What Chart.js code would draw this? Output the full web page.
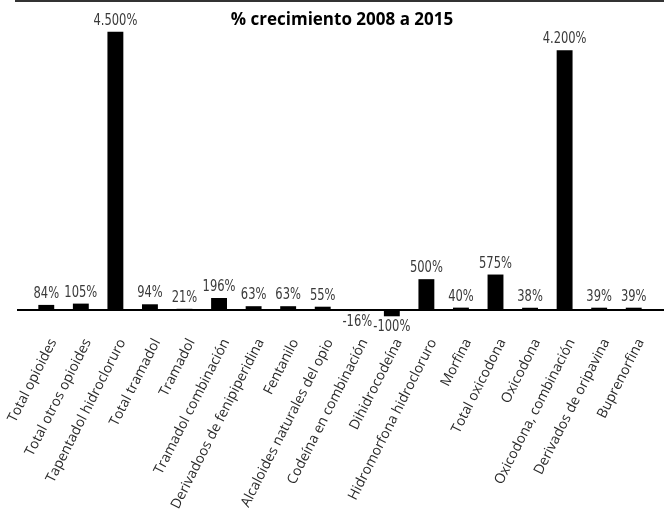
<!DOCTYPE html>
<html>
<head>
<meta charset="utf-8">
<script src="https://cdn.jsdelivr.net/npm/chart.js@4"></script>
<style>
  html, body { margin: 0; padding: 0; background: #fff; }
  #wrap { width: 664px; height: 512px; }
</style>
</head>
<body>
<div id="wrap"><canvas id="grafico" width="664" height="512"></canvas></div>
<script>
// datos
const categorias = [
  "Total opioides", "Total otros opioides", "Tapentadol hidrocloruro",
  "Total tramadol", "Tramadol", "Tramadol combinación",
  "Derivadoos de fenipiperidina", "Fentanilo", "Alcaloides naturales del opio",
  "Codeína en combinación", "Dihidrocodeína", "Hidromorfona hidrocloruro",
  "Morfina", "Total oxicodona", "Oxicodona", "Oxicodona, combinación",
  "Derivados de oripavina", "Buprenorfina"
];
const crecimiento = [84, 105, 4500, 94, 21, 196, 63, 63, 55, -16, -100, 500, 40, 575, 38, 4200, 39, 39];
const titulo = "% crecimiento 2008 a 2015";

// 4500 -> "4.500%"
function formatoPct(v) {
  const s = String(Math.abs(v)).replace(/\B(?=(\d{3})+(?!\d))/g, ".");
  return (v < 0 ? "-" : "") + s + "%";
}

//etiquetas de valor, lineas y titulo
const dibujoExtra = {
  id: "dibujoExtra",
  afterDatasetsDraw(chart) {
    const { ctx, chartArea } = chart;
    const yScale = chart.scales.y;
    const y0 = yScale.getPixelForValue(0);

    ctx.save();
    //linea superior
    ctx.strokeStyle = "#333";
    ctx.lineWidth = 2;
    ctx.beginPath();
    ctx.moveTo(15, 1);
    ctx.lineTo(664, 1);
    ctx.stroke();

    //eje cero
    ctx.strokeStyle = "#000";
    ctx.beginPath();
    ctx.moveTo(17, y0);
    ctx.lineTo(664, y0);
    ctx.stroke();

    //valores
    const meta = chart.getDatasetMeta(0);
    ctx.fillStyle = "#3a3a3a";
    ctx.font = "16px 'Liberation Sans Narrow', 'DejaVu Sans Condensed', sans-serif";
    ctx.textAlign = "center";
    meta.data.forEach((bar, i) => {
      const v = crecimiento[i];
      const txt = formatoPct(v);
      ctx.save();
      if (v >= 0) {
        ctx.textBaseline = "bottom";
        ctx.translate(bar.x, Math.min(bar.y, y0 - 1) - 3);
      } else {
        ctx.textBaseline = "top";
        ctx.translate(bar.x, Math.max(bar.y, y0 + 1) + 3);
      }
      ctx.scale(0.8, 1);
      ctx.fillText(txt, 0, 0);
      ctx.restore();
    });

    //titulo
    ctx.fillStyle = "#000";
    ctx.font = "bold 17px 'Open Sans', sans-serif";
    ctx.textAlign = "center";
    ctx.textBaseline = "middle";
    ctx.fillText(titulo, (chartArea.left + chartArea.right) / 2 + 2, 20);
    ctx.restore();
  },
};

const ctxBar = document.getElementById("grafico").getContext("2d");
const grafico = new Chart(ctxBar, {
  type: "bar",
  data: {
    labels: categorias,
    datasets: [
      {
        data: crecimiento,
        backgroundColor: "#000",
        barPercentage: 0.46,
        categoryPercentage: 1,
      },
    ],
  },
  options: {
    responsive: false,
    maintainAspectRatio: false,
    animation: false,
    layout: { padding: { left: 29, right: 13, top: 7, bottom: 0 } },
    plugins: {
      legend: { display: false },
      tooltip: { enabled: false },
    },
    scales: {
      x: {
        grid: { display: false },
        border: { display: false },
        ticks: {
          autoSkip: false,
          minRotation: 63,
          maxRotation: 63,
          padding: 8,
          labelOffset: 7,
          color: "#2a2a2a",
          font: { family: "'Open Sans', sans-serif", size: 14 },
        },
        afterFit(scale) {
          scale.height = 192;
          scale.paddingLeft = 0;
          scale.paddingRight = 0;
        },
      },
      y: {
        display: false,
        min: -160,
        max: 4900,
      },
    },
  },
  plugins: [dibujoExtra],
});
</script>
</body>
</html>
